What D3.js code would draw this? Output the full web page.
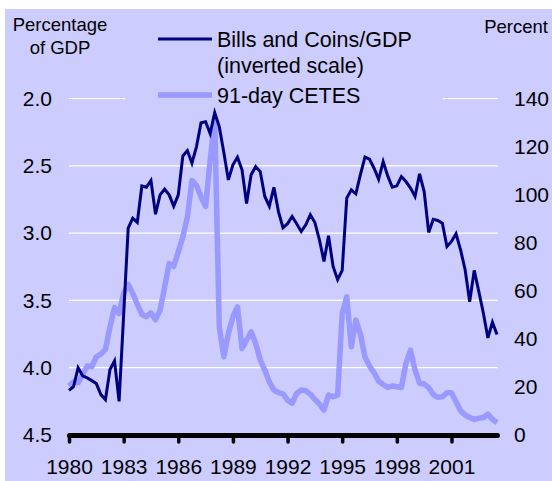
<!DOCTYPE html>
<html>
<head>
<meta charset="utf-8">
<script src="https://cdn.jsdelivr.net/npm/d3@7"></script>
<style>
	body { margin: 0; background: #ffffff; }
	svg { display: block; font-family: "Liberation Sans", Arial, sans-serif; }
</style>
</head>
<body>
<svg id="viz"></svg>
<script>

const startYear = 1980;

// Bills and coins in circulation, percent of GDP (left axis, inverted)
const billsCoins = [
	4.168, 4.14, 4.00, 4.06, 4.076, 4.096, 4.118, 4.20, 4.237, 4.014,
	3.95, 4.25, 3.61, 2.963, 2.889, 2.92, 2.65, 2.659, 2.61, 2.86,
	2.716, 2.674, 2.716, 2.80, 2.716, 2.427, 2.387, 2.48, 2.357, 2.18,
	2.172, 2.26, 2.105, 2.209, 2.40, 2.605, 2.493, 2.436, 2.53, 2.78,
	2.567, 2.506, 2.543, 2.728, 2.80, 2.66, 2.84, 2.96, 2.93, 2.877,
	2.931, 2.988, 2.938, 2.864, 2.921, 3.05, 3.21, 3.02, 3.248, 3.346,
	3.277, 2.74, 2.679, 2.708, 2.565, 2.436, 2.451, 2.518, 2.60, 2.469,
	2.575, 2.659, 2.649, 2.58, 2.617, 2.666, 2.728, 2.56, 2.691, 2.995,
	2.897, 2.906, 2.926, 3.099, 3.062, 3.005, 3.124, 3.272, 3.51, 3.277,
	3.433, 3.594, 3.779, 3.663, 3.754
];

// 91-day CETES rate, percent (right axis)
const cetes = [
	20.4, 22.1, 21.7, 25.1, 28.7, 28.4, 32.5, 33.6, 35.6, 45,
	53, 50.5, 59, 62.7, 58.9, 54.4, 50.2, 49.2, 50.8, 48,
	51.9, 61.6, 71.3, 70.2, 76.2, 82.4, 90.7, 105.9, 103.9, 99,
	95.1, 114.2, 132, 45, 32.5, 42.2, 49.2, 53.3, 36, 39.5,
	42.9, 38.1, 31.2, 27, 22.1, 18.7, 17.6, 17.1, 14.5, 13.2,
	17.3, 18.7, 18.4, 17, 14.8, 12.9, 10.4, 16.6, 15.9, 16.6,
	50.5, 57.5, 36.7, 47.8, 42, 32.5, 28.7, 25.9, 22.4, 21,
	19.8, 20.4, 20.1, 19.8, 29.8, 35.3, 27, 21.5, 21.2, 19.7,
	16.8, 15.7, 15.9, 17.6, 17.6, 13.8, 10.1, 8.3, 7.3, 6.5,
	6.9, 7.3, 8.7, 6.5, 5.1
];

// Tick labels
const yearTicks = [1980, 1983, 1986, 1989, 1992, 1995, 1998, 2001];
const leftTicks = [2.0, 2.5, 3.0, 3.5, 4.0, 4.5];
const rightTicks = [0, 20, 40, 60, 80, 100, 120, 140];

// Legend entries
const legendItems = [
	{ lines: ["Bills and Coins/GDP", "(inverted scale)"], kind: "bills" },
	{ lines: ["91-day CETES"], kind: "cetes" }
];

const width = 552;
const height = 481;

const margin = {
	top: 98.5,
	right: 55,
	bottom: 46,
	left: 69
};

const navy = "#000080";
const lilac = "#9999ff";
const background = "#ccccff";

const svg = d3.select("svg#viz")
	.attr("width", width)
	.attr("height", height);

// lavender panel
svg.append("rect")
	.attr("x", 5)
	.attr("y", 9)
	.attr("width", width - 5)
	.attr("height", height - 9)
	.attr("fill", background);

// scales
const x = d3.scaleLinear()
	.domain([startYear, startYear + (billsCoins.length - 1) / 4])
	.range([margin.left, width - margin.right]);

const yLeft = d3.scaleLinear()
	.domain([2.0, 4.5])
	.range([margin.top, height - margin.bottom]);

const yRight = d3.scaleLinear()
	.domain([0, 140])
	.range([height - margin.bottom, margin.top]);

const billsData = billsCoins.map((v, i) => ({ t: startYear + i / 4, v: v }));
const cetesData = cetes.map((v, i) => ({ t: startYear + i / 4, v: v }));

drawGrid();
drawLegend();
drawLines();
drawAxes();
drawTitles();

function drawGrid() {
	svg.append("g").attr("id", "grid")
		.selectAll("line")
		.data(leftTicks.filter(d => d < 4.5))
		.join("line")
		.attr("x1", margin.left)
		.attr("x2", width - margin.right + 1)
		.attr("y1", d => yLeft(d))
		.attr("y2", d => yLeft(d))
		.attr("stroke", "#ffffff")
		.attr("stroke-width", 1.2);
}

function drawLegend() {
	let legend = svg.append("g").attr("id", "legend");

	// the legend box hides the top grid line
	legend.append("rect")
		.attr("x", 125)
		.attr("y", 14)
		.attr("width", 318)
		.attr("height", 92)
		.attr("fill", background);

	const rowY = [39, 95];

	legendItems.forEach(function(item, i) {
		legend.append("line")
			.attr("x1", 158)
			.attr("x2", 212)
			.attr("y1", rowY[i])
			.attr("y2", rowY[i])
			.attr("stroke", item.kind == "bills" ? navy : lilac)
			.attr("stroke-width", item.kind == "bills" ? 3 : 5.5);

		legend.append("text")
			.attr("x", 217)
			.attr("y", rowY[i] + 7.5)
			.attr("font-size", 21.5)
			.attr("fill", "#000000")
			.selectAll("tspan")
			.data(item.lines)
			.join("tspan")
			.attr("x", 217)
			.attr("dy", (d, j) => j == 0 ? 0 : 26)
			.text(d => d);
	});
}

function drawLines() {
	let cetesLine = d3.line()
		.x(d => x(d.t))
		.y(d => yRight(d.v));

	let billsLine = d3.line()
		.x(d => x(d.t))
		.y(d => yLeft(d.v));

	svg.append("path")
		.datum(cetesData)
		.attr("fill", "none")
		.attr("stroke", lilac)
		.attr("stroke-width", 5.5)
		.attr("stroke-linejoin", "round")
		.attr("d", cetesLine);

	svg.append("path")
		.datum(billsData)
		.attr("fill", "none")
		.attr("stroke", navy)
		.attr("stroke-width", 3)
		.attr("d", billsLine);
}

function drawAxes() {
	let xAxis = d3.axisBottom(x)
		.tickValues(yearTicks)
		.tickFormat(d3.format("d"))
		.tickSize(7)
		.tickSizeOuter(0)
		.tickPadding(17);

	let gx = svg.append("g")
		.attr("id", "x-axis")
		.attr("transform", translate(0, height - margin.bottom))
		.call(xAxis);

	gx.select(".domain")
		.attr("stroke", "#000000")
		.attr("stroke-width", 5)
		.attr("stroke-linecap", "round");
	gx.selectAll(".tick line")
		.attr("stroke", "#000000")
		.attr("stroke-width", 3.5)
		.attr("stroke-linecap", "round");
	gx.selectAll(".tick text")
		.attr("font-size", 21)
		.attr("font-family", null)
		.attr("fill", "#000000");

	let yAxisLeft = d3.axisLeft(yLeft)
		.tickValues(leftTicks)
		.tickFormat(d3.format(".1f"))
		.tickSize(0)
		.tickPadding(17);

	let gl = svg.append("g")
		.attr("id", "y-axis-left")
		.attr("transform", translate(margin.left, 0))
		.call(yAxisLeft);
	gl.select(".domain").remove();
	gl.selectAll(".tick text")
		.attr("font-size", 21)
		.attr("fill", "#000000");

	let yAxisRight = d3.axisRight(yRight)
		.tickValues(rightTicks)
		.tickSize(0)
		.tickPadding(16);

	let gr = svg.append("g")
		.attr("id", "y-axis-right")
		.attr("transform", translate(width - margin.right + 1, 0))
		.call(yAxisRight);
	gr.select(".domain").remove();
	gr.selectAll(".tick text")
		.attr("font-size", 21)
		.attr("fill", "#000000");

	// axis() sets a font on the group, use ours instead
	svg.selectAll("#x-axis, #y-axis-left, #y-axis-right").attr("font-family", null);
}

function drawTitles() {
	let left = svg.append("text")
		.attr("text-anchor", "middle")
		.attr("font-size", 18.5)
		.attr("fill", "#000000");
	left.append("tspan").attr("x", 60).attr("y", 31).text("Percentage");
	left.append("tspan").attr("x", 60).attr("y", 53.5).text("of GDP");

	svg.append("text")
		.attr("x", 548)
		.attr("y", 33)
		.attr("text-anchor", "end")
		.attr("font-size", 18.5)
		.attr("fill", "#000000")
		.text("Percent");
}

//Helper functions
function translate(x, y) {
	return 'translate(' + x + ',' + y + ')';
}

</script>
</body>
</html>
